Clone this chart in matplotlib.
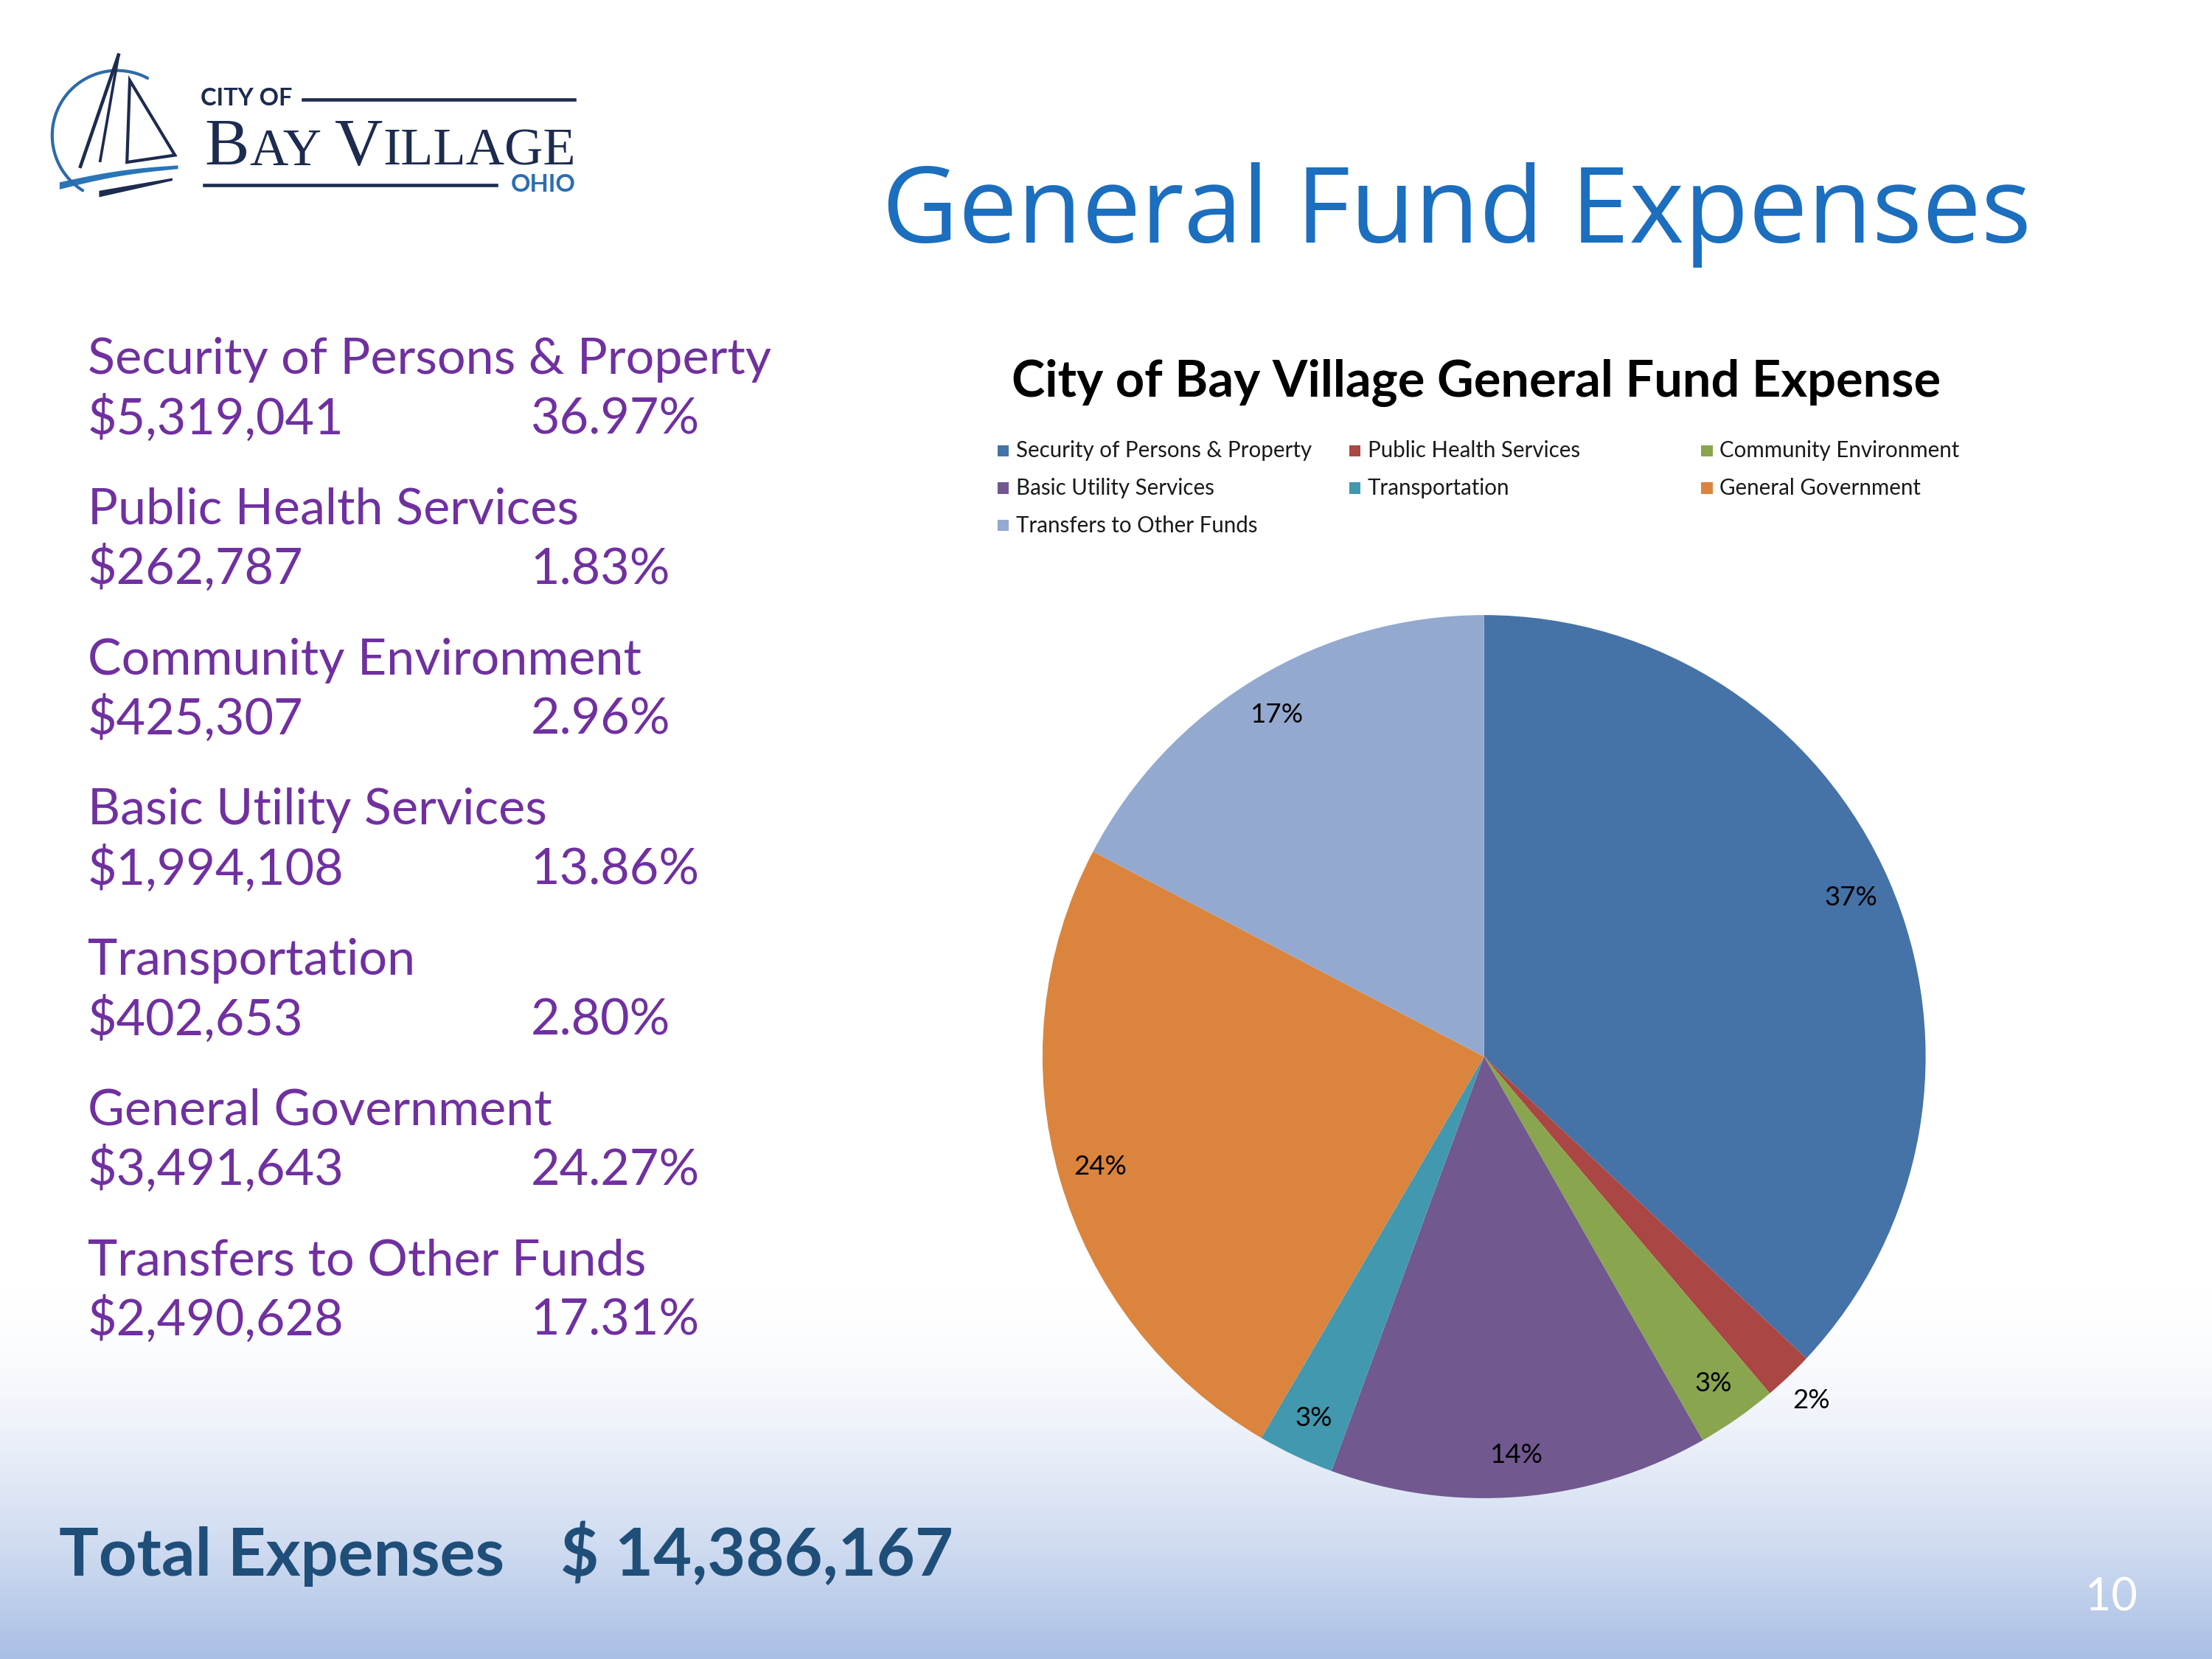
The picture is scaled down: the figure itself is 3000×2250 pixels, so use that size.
import numpy as np
import matplotlib
matplotlib.use("Agg")
import matplotlib.pyplot as plt
from matplotlib.patches import Rectangle, Polygon
from matplotlib.colors import to_rgb

# ---------------- data ----------------
categories = ["Security of Persons & Property", "Public Health Services", "Community Environment",
              "Basic Utility Services", "Transportation", "General Government",
              "Transfers to Other Funds"]
amounts = [5319041, 262787, 425307, 1994108, 402653, 3491643, 2490628]
percent_labels = ["36.97%", "1.83%", "2.96%", "13.86%", "2.80%", "24.27%", "17.31%"]
total_label = "$ 14,386,167"
slide_title = "General Fund Expenses"
chart_title = "City of Bay Village General Fund Expense"
page_number = "10"

colors = ["#4572A7", "#AA4643", "#89A54E", "#71588F", "#4198AF", "#DB843D", "#93A9CF"]

# ---------------- layout (reference units 1568 x 1176) ----------------
W, H = 1568.0, 1176.0
SANS = ["Lato", "DejaVu Sans"]
TITLE_FONT = ["Open Sans", "DejaVu Sans"]
PURPLE = "#7030A0"
NAVY = "#1D2B50"

fig = plt.figure(figsize=(10, 7.5), dpi=300)

# background gradient
bg = fig.add_axes([0, 0, 1, 1], zorder=0)
ys = np.linspace(0, 1, 600)[:, None]
t = np.clip((ys - 0.78) / 0.22, 0, 1) ** 1.6
top = np.array([1.0, 1.0, 1.0])
bot = np.array(to_rgb("#A9BFE5"))
img = top[None, None, :] * (1 - t[..., None]) + bot[None, None, :] * t[..., None]
bg.imshow(img, aspect="auto", extent=[0, 1, 0, 1], origin="upper")
bg.axis("off")

# pie chart
cx, cy, r = 1052.0, 749.0, 313.0
pax = fig.add_axes([(cx - r) / W, 1 - (cy + r) / H, 2 * r / W, 2 * r / H], zorder=2)
wedges, texts, autotexts = pax.pie(
    amounts, colors=colors, startangle=90, counterclock=False, radius=1.0,
    autopct="%1.0f%%", pctdistance=0.905,
    wedgeprops=dict(linewidth=0),
    textprops=dict(fontsize=8.8, color="black", family=SANS))
# the tiny slice label sits outside the pie
small = int(np.argmin(amounts))
w = wedges[small]
ang = np.deg2rad((w.theta1 + w.theta2) / 2)
autotexts[small].set_position((1.075 * np.cos(ang), 1.075 * np.sin(ang)))
pax.set_xlim(-1, 1)
pax.set_ylim(-1, 1)
pax.set_aspect("equal")
pax.axis("off")

# overlay axes for text in reference units
ov = fig.add_axes([0, 0, 1, 1], zorder=3)
ov.set_xlim(0, W)
ov.set_ylim(H, 0)
ov.axis("off")

renderer = fig.canvas.get_renderer()


def fit_size(s, width, **kw):
    tt = ov.text(0, 0, s, fontsize=20, **kw)
    bb = tt.get_window_extent(renderer)
    tt.remove()
    return 20 * (width * fig.bbox.width / W) / bb.width


def text_width(s, size, **kw):
    tt = ov.text(0, 0, s, fontsize=size, **kw)
    bb = tt.get_window_extent(renderer)
    tt.remove()
    return bb.width * W / fig.bbox.width


# slide title
sz = fit_size(slide_title, 815, family=TITLE_FONT)
ov.text(625, 172, slide_title, fontsize=sz, family=TITLE_FONT, color="#1C6EBF", va="baseline")

# chart title
sz = fit_size(chart_title, 660, family=SANS, weight="bold")
ov.text(717, 281, chart_title, fontsize=sz, family=SANS, weight="bold", color="black", va="baseline")

# legend (row-major, 3 columns)
lsz = fit_size(categories[0], 210, family=SANS)
for i, (lab, col) in enumerate(zip(categories, colors)):
    row, c = divmod(i, 3)
    x0 = 707 + c * 249.5
    y0 = 319.5 + row * 26.5
    ov.add_patch(Rectangle((x0, y0 - 4), 8, 8, facecolor=col, edgecolor="none"))
    ov.text(x0 + 13, y0, lab, fontsize=lsz, family=SANS, color="#1a1a1a", va="center")

# left side list
ksz = fit_size(categories[0], 485, family=SANS)
for i, (lab, amt, pct) in enumerate(zip(categories, amounts, percent_labels)):
    yb = 265 + i * 106.5
    ov.text(62, yb, lab, fontsize=ksz, family=SANS, color=PURPLE, va="baseline")
    ov.text(62, yb + 42.5, f"${amt:,}", fontsize=ksz, family=SANS, color=PURPLE, va="baseline")
    ov.text(376, yb + 42.5, pct, fontsize=ksz, family=SANS, color=PURPLE, va="baseline")

# total
tsz = fit_size("Total Expenses", 316, family=SANS, weight="bold")
ov.text(42, 1117, "Total Expenses", fontsize=tsz, family=SANS, weight="bold", color="#1F4E79", va="baseline")
ov.text(397, 1117, total_label, fontsize=tsz, family=SANS, weight="bold", color="#1F4E79", va="baseline")

# page number
psz = fit_size(page_number, 37, family=SANS)
ov.text(1478, 1142, page_number, fontsize=psz, family=SANS, color="white", va="baseline")

# ---------------- logo ----------------
# circle arc
a = np.deg2rad(np.linspace(62, 238, 200))
lcx, lcy, lr = 83.0, 96.0, 46.0
ov.plot(lcx + lr * np.cos(a), lcy - lr * np.sin(a), color="#2D6BA6", lw=1.0, solid_capstyle="round")
# mast and sail
ov.plot([84, 57], [39, 118], color=NAVY, lw=1.1)
ov.plot([84, 71], [39, 114], color=NAVY, lw=0.9)
ov.add_patch(Polygon([[92, 57], [124, 110], [90, 115]], closed=True, fill=False,
                     edgecolor=NAVY, lw=1.0, joinstyle="miter"))
# waves
xs = np.linspace(42, 126, 60)
up = 129 - (xs - 42) / 84 * 12 - 2.0 * np.sin((xs - 42) / 84 * np.pi)
ov.fill_between(xs, up, up + 5 * (1 - 0.5 * (xs - 42) / 84), color="#2A74B8", lw=0)
xs2 = np.linspace(70, 122, 40)
up2 = 135 - (xs2 - 70) / 52 * 9
ov.fill_between(xs2, up2, up2 + 4.5 * (1 - 0.6 * (xs2 - 70) / 52), color=NAVY, lw=0)

# logo text
csz = fit_size("CITY OF", 65, family=SANS, weight="bold")
ov.text(142, 75, "CITY OF", fontsize=csz, family=SANS, weight="bold", color=NAVY, va="baseline")
ov.plot([215, 407], [70.5, 70.5], color=NAVY, lw=1.1)
ov.plot([145, 352], [131, 131], color=NAVY, lw=1.1)
osz = fit_size("OHIO", 46, family=SANS, weight="bold")
ov.text(362, 136, "OHIO", fontsize=osz, family=SANS, weight="bold", color="#2A6FB0", va="baseline")

SERIF = ["Liberation Serif", "DejaVu Serif"]
pieces = [("B", 1.0), ("AY", 0.8), (" ", 0.8), ("V", 1.0), ("ILLAGE", 0.8)]
base = 20.0
total = sum(text_width(p, base * f, family=SERIF) for p, f in pieces)
scale = 263.0 / total
x = 145.0
for p, f in pieces:
    s = base * f * scale
    ov.text(x, 117, p, fontsize=s, family=SERIF, color=NAVY, va="baseline")
    x += text_width(p, s, family=SERIF)

fig.savefig("out.png", dpi=300)
